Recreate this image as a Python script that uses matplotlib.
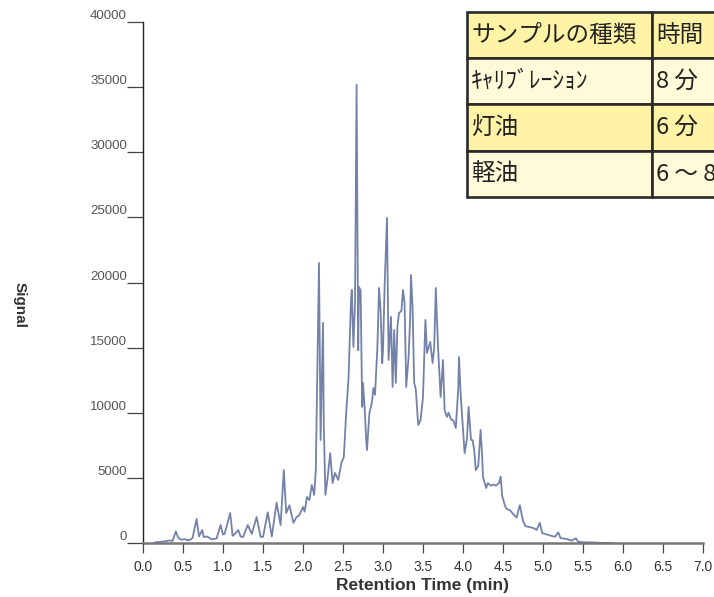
import matplotlib
matplotlib.use("Agg")
import matplotlib.pyplot as plt
from matplotlib import font_manager as fm
from matplotlib.patches import Rectangle

installed = {f.name for f in fm.fontManager.ttflist}
num_font = "Liberation Sans Narrow" if "Liberation Sans Narrow" in installed else "Liberation Sans"
jp_font = ["Noto Sans CJK JP", "DejaVu Sans"]

# chromatogram (retention time in min, signal)
time = [0.15, 0.24, 0.34, 0.37, 0.41, 0.44, 0.48, 0.52, 0.56, 0.59, 0.62, 0.67,
        0.70, 0.74, 0.76, 0.80, 0.86, 0.92, 0.97, 1.00, 1.02, 1.09, 1.12, 1.15,
        1.19, 1.22, 1.25, 1.31, 1.36, 1.42, 1.47, 1.50, 1.56, 1.61, 1.67, 1.72,
        1.76, 1.79, 1.83, 1.88, 1.92, 1.95, 2.00, 2.02, 2.05, 2.08, 2.11, 2.14,
        2.16, 2.18, 2.20, 2.22, 2.25, 2.26, 2.28, 2.30, 2.34, 2.37, 2.40, 2.44,
        2.48, 2.51, 2.54, 2.57, 2.60, 2.61, 2.63, 2.65, 2.67, 2.69, 2.70, 2.72,
        2.74, 2.75, 2.77, 2.79, 2.80, 2.83, 2.86, 2.88, 2.90, 2.93, 2.95, 2.97,
        2.99, 3.00, 3.02, 3.05, 3.07, 3.10, 3.12, 3.14, 3.16, 3.18, 3.20, 3.23,
        3.25, 3.27, 3.29, 3.32, 3.34, 3.35, 3.37, 3.39, 3.41, 3.44, 3.47, 3.50,
        3.53, 3.55, 3.59, 3.62, 3.64, 3.66, 3.69, 3.72, 3.75, 3.77, 3.80, 3.82,
        3.85, 3.88, 3.91, 3.94, 3.95, 3.97, 3.99, 4.02, 4.05, 4.07, 4.10, 4.12,
        4.14, 4.16, 4.19, 4.22, 4.24, 4.25, 4.29, 4.31, 4.35, 4.38, 4.41, 4.45,
        4.47, 4.49, 4.53, 4.55, 4.59, 4.63, 4.67, 4.71, 4.75, 4.78, 4.81, 4.88,
        4.92, 4.96, 4.99, 5.05, 5.11, 5.15, 5.19, 5.22, 5.30, 5.36, 5.41, 5.44,
        5.50, 5.63, 5.75, 5.88]
signal = [50, 100, 200, 150, 900, 400, 250, 300, 200, 250, 400, 1850,
          500, 1000, 450, 500, 280, 350, 1380, 650, 700, 2300, 550, 700,
          1000, 500, 450, 1380, 700, 2000, 480, 460, 2350, 500, 3100, 1380,
          5600, 2300, 2900, 1550, 2000, 2100, 2760, 2400, 3530, 3300, 4450, 3690,
          5600, 13300, 21500, 7900, 16900, 9000, 3690, 4600, 6900, 4600, 5380, 4840,
          6140, 6600, 10000, 12750, 18660, 19430, 15050, 18400, 35170, 14800, 19660, 19400,
          10450, 12290, 10450, 7900, 7140, 9980, 10750, 11900, 11370, 15050, 19580, 17900,
          13800, 14800, 19660, 24960, 14050, 17360, 11980, 16360, 12290, 16590, 17660, 17800,
          19430, 18400, 11980, 14280, 17360, 20580, 18000, 12290, 11800, 9060, 9450, 11210,
          17130, 14600, 15440, 13820, 15000, 19580, 14800, 11210, 14050, 10200, 9680, 10000,
          9500, 9400, 8830, 11800, 14280, 11500, 9680, 6900, 8000, 10450, 7910, 7900,
          7140, 5600, 5900, 8680, 6600, 5070, 4220, 4600, 4400, 4500, 4400, 4600,
          5100, 3600, 2760, 2600, 2500, 2200, 1950, 2900, 1700, 1300, 1250, 1150,
          1000, 1560, 770, 650, 540, 480, 820, 380, 300, 180, 360, 100,
          60, 40, 0, 0]

x_ticks = [0.0, 0.5, 1.0, 1.5, 2.0, 2.5, 3.0, 3.5, 4.0, 4.5, 5.0, 5.5, 6.0, 6.5, 7.0]
y_ticks = [0, 5000, 10000, 15000, 20000, 25000, 30000, 35000, 40000]

table_rows = [
    ["サンプルの種類", "時間"],
    ["ｷｬﾘﾌﾞﾚｰｼｮﾝ", "8 分"],
    ["灯油", "6 分"],
    ["軽油", "6 ～ 8 分"],
]
row_colors = ["#fff3a6", "#fffad8", "#fff3a6", "#fffad8"]

W, H = 714, 597
fig = plt.figure(figsize=(W / 100, H / 100), dpi=100)
ax = fig.add_axes([143 / W, 1 - 543 / H, 560 / W, 521 / H])

ax.plot(time, signal, color="#7482aa", linewidth=1.3)

ax.set_xlim(0, 7)
ax.set_ylim(0, 40000)
ax.set_xticks(x_ticks)
ax.set_xticklabels([f"{v:.1f}" for v in x_ticks])
ax.set_yticks(y_ticks)
ax.set_yticklabels([str(v) for v in y_ticks])

for s in ["top", "right"]:
    ax.spines[s].set_visible(False)
ax.spines["left"].set_color("#222222")
ax.spines["left"].set_linewidth(1.0)
ax.spines["bottom"].set_color("#777777")
ax.spines["bottom"].set_linewidth(1.8)

ax.tick_params(axis="y", direction="out", length=11.5, width=0.9, pad=0,
               color="#444444", labelsize=9.5, labelcolor="#555555")
ax.tick_params(axis="x", direction="out", length=7, width=0.9, pad=5,
               color="#444444", labelsize=10, labelcolor="#333333")
for lbl in ax.get_yticklabels():
    lbl.set_verticalalignment("bottom")
    lbl.set_family(num_font)
for lbl in ax.get_xticklabels():
    lbl.set_family(num_font)

ax.set_xlabel("Retention Time (min)", fontsize=12.5, fontweight="bold",
              family=num_font, color="#333333", labelpad=3)
fig.text(20 / W, 1 - 305 / H, "Signal", rotation=-90, fontsize=11,
         fontweight="bold", family=num_font, color="#333333",
         ha="center", va="center")

# table in the upper right, cut by the figure edge
row_edges = [12, 58, 104, 151, 197]
col_edges = [467, 652, 800]
for i, row in enumerate(table_rows):
    y0, y1 = row_edges[i], row_edges[i + 1]
    for j, txt in enumerate(row):
        x0, x1 = col_edges[j], col_edges[j + 1]
        fig.add_artist(Rectangle((x0 / W, 1 - y1 / H), (x1 - x0) / W, (y1 - y0) / H,
                                 transform=fig.transFigure, facecolor=row_colors[i],
                                 edgecolor="#2a2a2a", linewidth=1.9, zorder=5))
        fig.text((x0 + 4) / W, 1 - (y0 + y1) / 2 / H, txt, family=jp_font,
                 fontsize=17, color="#222222", ha="left", va="center", zorder=6)

fig.savefig("out.png", dpi=100, facecolor="white")
